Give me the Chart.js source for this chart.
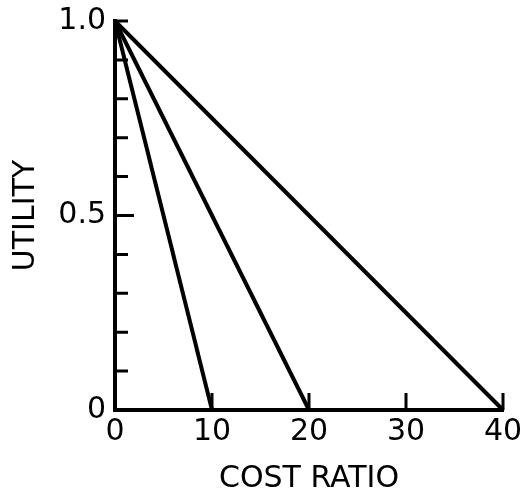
<!DOCTYPE html>
<html>
<head>
<meta charset="utf-8">
<script src="https://cdn.jsdelivr.net/npm/chart.js@4/dist/chart.umd.min.js"></script>
<style>
  body { margin: 0; background: #fff; }
  canvas { display: block; }
</style>
</head>
<body>
<canvas id="chart" width="524" height="502"></canvas>
<script>
// each line starts at utility 1.0 for cost ratio 0 and drops to 0 at these cost ratios
const startCost = 0;
const startUtility = 1.0;
const endCosts = [10, 20, 40];
const endUtility = 0;

// tick marks and labels
const xTicks = [10, 20, 30, 40];
const xTickLabels = ["0", "10", "20", "30", "40"];
const yTicks = [0.1, 0.2, 0.3, 0.4, 0.5, 0.6, 0.7, 0.8, 0.9, 1.0];
const yTickLabels = { "0": "0", "0.5": "0.5", "1": "1.0" };

const font = "'DejaVu Sans', sans-serif";

const datasets = endCosts.map(function(c) {
    return {
        data: [{ x: startCost, y: startUtility }, { x: c, y: endUtility }],
        borderColor: "#000",
        borderWidth: 4,
        pointRadius: 0,
        fill: false,
        clip: false
    };
});

// draw the short inward tick marks on both axes
const innerTicks = {
    id: "innerTicks",
    afterDatasetsDraw(chart) {
        const ctx = chart.ctx;
        const xs = chart.scales.x;
        const ys = chart.scales.y;
        const x0 = xs.getPixelForValue(0);
        const y0 = ys.getPixelForValue(0);
        ctx.save();
        ctx.strokeStyle = "#000";
        ctx.lineWidth = 3;
        ctx.beginPath();
        yTicks.forEach(v => {
            const py = ys.getPixelForValue(v);
            const len = (v === 0.5) ? 19 : 13;
            ctx.moveTo(x0, py);
            ctx.lineTo(x0 + len, py);
        });
        xTicks.forEach(v => {
            const px = xs.getPixelForValue(v);
            ctx.moveTo(px, y0);
            ctx.lineTo(px, y0 - 17);
        });
        ctx.stroke();
        ctx.restore();
    }
};

new Chart(document.getElementById("chart"), {
    type: "scatter",
    data: { datasets: datasets },
    plugins: [innerTicks],
    options: {
        responsive: false,
        animation: false,
        showLine: true,
        layout: { padding: { top: 21, right: 21, left: 0, bottom: 0 } },
        plugins: { legend: { display: false }, tooltip: { enabled: false } },
        scales: {
            x: {
                type: "linear",
                min: 0,
                max: 40,
                afterFit: s => { s.height = 92; s.paddingLeft = 0; s.paddingRight = 0; },
                grid: { display: false, drawTicks: false },
                border: { display: true, color: "#000", width: 4 },
                ticks: {
                    stepSize: 10,
                    color: "#000",
                    padding: 4,
                    font: { family: font, size: 30 },
                    callback: (v, i) => xTickLabels[i]
                },
                title: {
                    display: true,
                    text: "COST RATIO",
                    color: "#000",
                    font: { family: font, size: 30 },
                    padding: { top: 4, bottom: 5 }
                }
            },
            y: {
                type: "linear",
                min: 0,
                max: 1,
                afterFit: s => { s.width = 115; s.paddingTop = 0; s.paddingBottom = 0; },
                grid: { display: false, drawTicks: false },
                border: { display: true, color: "#000", width: 4 },
                ticks: {
                    stepSize: 0.1,
                    autoSkip: false,
                    color: "#000",
                    padding: 9,
                    font: { family: font, size: 30 },
                    callback: v => {
                        const key = String(Math.round(v * 10) / 10);
                        return yTickLabels[key] || "";
                    }
                },
                title: {
                    display: true,
                    text: "UTILITY",
                    color: "#000",
                    font: { family: font, size: 30 },
                    padding: { top: 8, bottom: 4 }
                }
            }
        }
    }
});
</script>
</body>
</html>
